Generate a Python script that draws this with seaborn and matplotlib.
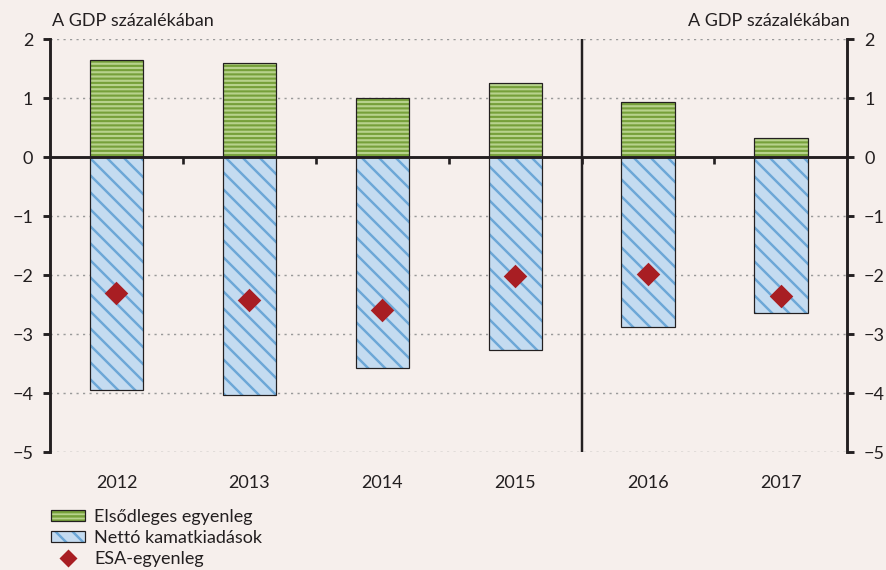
import numpy as np
import pandas as pd
import matplotlib
matplotlib.use("Agg")
import matplotlib.pyplot as plt
import seaborn as sns
from matplotlib.patches import Patch
from matplotlib.lines import Line2D
from matplotlib.legend_handler import HandlerTuple

# ---- data ----
years = ["2012", "2013", "2014", "2015", "2016", "2017"]
primary_balance = [1.64, 1.58, 1.00, 1.24, 0.93, 0.31]
net_interest = [-3.95, -4.03, -3.58, -3.27, -2.88, -2.64]
esa_balance = [-2.31, -2.42, -2.59, -2.02, -1.98, -2.36]
yticks = [2, 1, 0, -1, -2, -3, -4, -5]
unit_label = "A GDP százalékában"
legend_labels = ["Elsődleges egyenleg", "Nettó kamatkiadások", "ESA-egyenleg"]

df = pd.DataFrame({"year": years, "primary": primary_balance,
                   "interest": net_interest, "esa": esa_balance})

# ---- style ----
BG = "#F6EFEC"
DARK = "#231F20"
GREEN_FILL = "#B7D28C"
GREEN_HATCH = "#76A03A"
BLUE_FILL = "#C4DBF0"
BLUE_HATCH = "#6CA7D7"
RED = "#A81E23"

DPI = 102
K = 80 / DPI  # sizes below were tuned in points at 80 dpi
FS = 16.2 * K

sns.set_theme(style="white")
plt.rcParams["font.family"] = ["Lato", "DejaVu Sans"]

fig = plt.figure(figsize=(886.4 / DPI, 570.4 / DPI), dpi=DPI, facecolor=BG)
ax = fig.add_axes([50 / 886, 1 - 452 / 570, (847 - 50) / 886, (452 - 39) / 570])
ax.set_facecolor(BG)

W = 0.4
GH = "----"
BH = "\\\\"
GLW = 1.9 * K
BLW = 2.2 * K
OLW = 1.1 * K
# green bars: fill with hatch, then outline
plt.rcParams["hatch.linewidth"] = GLW
sns.barplot(data=df, x="year", y="primary", width=W, color=GREEN_FILL, saturation=1,
            hatch=GH, edgecolor=GREEN_HATCH, linewidth=0, errorbar=None, ax=ax, zorder=2)
sns.barplot(data=df, x="year", y="primary", width=W, color=DARK, saturation=1,
            fill=False, linewidth=OLW, errorbar=None, ax=ax, zorder=3)
# blue bars
plt.rcParams["hatch.linewidth"] = BLW
sns.barplot(data=df, x="year", y="interest", width=W, color=BLUE_FILL, saturation=1,
            hatch=BH, edgecolor=BLUE_HATCH, linewidth=0, errorbar=None, ax=ax, zorder=2)
sns.barplot(data=df, x="year", y="interest", width=W, color=DARK, saturation=1,
            fill=False, linewidth=OLW, errorbar=None, ax=ax, zorder=3)
sns.stripplot(data=df, x="year", y="esa", jitter=False, marker="D", size=15 * K,
              color=RED, linewidth=0, ax=ax, zorder=5)

ax.set_xlim(-0.5, len(years) - 0.5)
ax.set_ylim(-5, 2)
ax.set_yticks(yticks)
ax.set_yticklabels([str(t).replace("-", "\u2212") for t in yticks])
ax.set_xlabel("")
ax.set_ylabel("")

# grid: dotted lines at non-zero integers
for t in yticks:
    if t != 0:
        ax.axhline(t, color="#9A9A9A", linestyle=(0, (1.5, 3)), linewidth=1.3 * K, zorder=0.5)
ax.axhline(0, color=DARK, linewidth=2.6 * K, zorder=4)
ax.vlines(np.arange(len(years) - 1) + 0.5, -0.12, 0, color=DARK, linewidth=2.4 * K, zorder=4)
ax.axvline(3.5, color=DARK, linewidth=2.2 * K, zorder=4)

for s in ["top", "bottom"]:
    ax.spines[s].set_visible(False)
for s in ["left", "right"]:
    ax.spines[s].set_visible(True)
    ax.spines[s].set_color(DARK)
    ax.spines[s].set_linewidth(2.6 * K)
    ax.spines[s].set_zorder(6)

ax.tick_params(axis="y", which="both", left=True, right=True, labelleft=True, labelright=True,
               direction="out", length=6 * K, width=2.6 * K, color=DARK, labelsize=FS,
               labelcolor=DARK, pad=9 * K)
ax.tick_params(axis="x", bottom=False, labelsize=FS, labelcolor=DARK, pad=13 * K)

fig.text(52 / 886, 1 - 21 / 570, unit_label, ha="left", va="center", fontsize=FS, color=DARK)
fig.text(849 / 886, 1 - 21 / 570, unit_label, ha="right", va="center", fontsize=FS, color=DARK)

plt.rcParams["hatch.linewidth"] = GLW
h1 = (Patch(facecolor=GREEN_FILL, hatch=GH, edgecolor=GREEN_HATCH, linewidth=0),
      Patch(fill=False, edgecolor=DARK, linewidth=OLW))
plt.rcParams["hatch.linewidth"] = BLW
h2 = (Patch(facecolor=BLUE_FILL, hatch=BH, edgecolor=BLUE_HATCH, linewidth=0),
      Patch(fill=False, edgecolor=DARK, linewidth=OLW))
h3 = Line2D([], [], marker="D", linestyle="none", color=RED, markersize=10 * K)
fig.legend([h1, h2, h3], legend_labels, loc="upper left",
           bbox_to_anchor=(51 / 886, 1 - 509 / 570), frameon=False, fontsize=FS,
           handler_map={tuple: HandlerTuple(ndivide=1, pad=0)},
           handlelength=1.9, handleheight=0.55, handletextpad=0.5, labelspacing=0.27,
           borderaxespad=0, borderpad=0, labelcolor=DARK)

fig.savefig("out.png", dpi=DPI, facecolor=BG)
